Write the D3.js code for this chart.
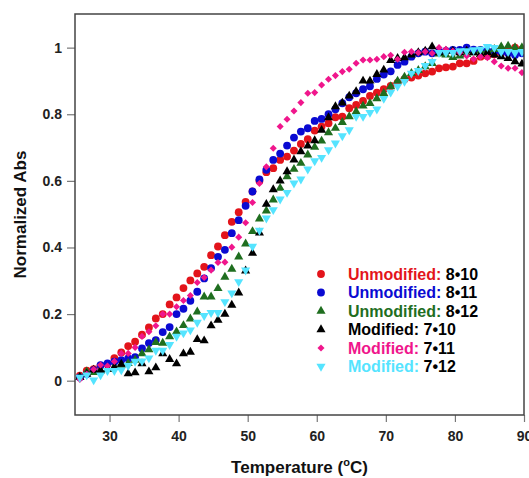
<!DOCTYPE html>
<html>
<head>
<meta charset="utf-8">
<script src="https://cdn.jsdelivr.net/npm/d3@7"></script>
<style>
  body { margin: 0; background: #fff; }
  svg { display: block; font-family: "Liberation Sans", Arial, sans-serif; }
  .tick text { font-size: 14px; font-weight: bold; fill: #222; }
  .tick line { stroke: #777; stroke-width: 1.2; }
</style>
</head>
<body>
<svg id="chart" width="529" height="478"></svg>
<script>
// temperature grid, deg C
const temps = [25.7,26.7,27.7,28.7,29.7,30.7,31.7,32.7,33.7,34.7,35.7,36.7,37.7,38.7,39.7,40.7,41.7,42.7,43.7,44.7,
  45.7,46.7,47.7,48.7,49.7,50.7,51.7,52.7,53.7,54.7,55.7,56.7,57.7,58.7,59.7,60.7,61.7,62.7,63.7,64.7,
  65.7,66.7,67.7,68.7,69.7,70.7,71.7,72.7,73.7,74.7,75.7,76.7,77.7,78.7,79.7,80.7,81.7,82.7,83.7,84.7,
  85.7,86.7,87.7,88.7,89.7];

const unmod810 = [0.015,0.03,0.035,0.045,0.05,0.068,0.085,0.104,0.117,0.138,0.16,0.187,0.2,0.229,0.25,0.278,0.301,0.322,0.342,0.377,
  0.403,0.437,0.477,0.506,0.537,0.568,0.6,0.626,0.638,0.663,0.673,0.691,0.711,0.725,0.751,0.763,0.773,0.791,0.793,0.818,
  0.828,0.84,0.855,0.865,0.875,0.885,0.895,0.905,0.91,0.916,0.923,0.928,0.938,0.941,0.943,0.953,0.953,0.96,0.973,0.975,
  0.98,0.985,0.99,1.0,0.995];
const unmod811 = [0.01,0.02,0.032,0.047,0.052,0.057,0.062,0.067,0.071,0.097,0.113,0.122,0.146,0.161,0.2,0.216,0.24,0.267,0.307,0.338,
  0.372,0.393,0.443,0.482,0.525,0.568,0.604,0.633,0.663,0.682,0.706,0.73,0.748,0.758,0.78,0.786,0.8,0.815,0.833,0.851,
  0.863,0.875,0.884,0.906,0.919,0.929,0.948,0.958,0.973,0.983,0.988,0.983,0.988,0.99,0.993,0.993,1.0,0.994,0.993,0.99,
  0.99,0.988,0.983,0.978,0.983];
const unmod812 = [0.01,0.027,0.025,0.03,0.035,0.042,0.047,0.052,0.062,0.081,0.093,0.115,0.113,0.132,0.147,0.166,0.186,0.207,0.252,0.252,
  0.277,0.311,0.335,0.372,0.411,0.448,0.486,0.51,0.543,0.578,0.613,0.635,0.653,0.678,0.701,0.72,0.745,0.758,0.776,0.793,
  0.808,0.825,0.833,0.847,0.863,0.883,0.9,0.912,0.923,0.932,0.943,0.953,0.981,0.978,0.971,0.975,0.98,0.985,0.99,0.99,
  0.995,1.003,1.005,1.0,1.0];
const mod710 = [0.01,0.02,0.032,0.03,0.035,0.04,0.05,0.021,0.024,0.051,0.027,0.039,0.081,0.064,0.051,0.081,0.086,0.124,0.12,0.165,
  0.182,0.2,0.227,0.264,0.33,0.383,0.444,0.53,0.574,0.6,0.628,0.663,0.688,0.705,0.721,0.752,0.79,0.823,0.834,0.855,
  0.868,0.9,0.9,0.92,0.933,0.962,0.968,0.97,0.978,0.985,0.99,1.003,0.985,0.99,0.99,0.985,0.99,0.985,0.98,0.985,
  0.978,0.973,0.968,0.958,0.951];
const mod711 = [0.004,0.02,0.034,0.047,0.044,0.058,0.082,0.082,0.1,0.133,0.147,0.165,0.2,0.2,0.222,0.241,0.256,0.295,0.31,0.332,
  0.355,0.356,0.401,0.431,0.474,0.535,0.592,0.642,0.698,0.763,0.785,0.81,0.835,0.863,0.865,0.888,0.905,0.916,0.928,0.935,
  0.953,0.963,0.963,0.965,0.973,0.977,0.965,0.986,0.988,0.985,0.988,0.983,1.0,0.995,0.99,0.985,0.975,0.966,0.973,0.97,
  0.958,0.945,0.938,0.938,0.925];
const mod712 = [0.01,0.017,0.002,0.017,0.03,0.03,0.032,0.045,0.058,0.059,0.068,0.091,0.091,0.108,0.133,0.143,0.152,0.175,0.195,0.204,
  0.204,0.237,0.263,0.297,0.332,0.403,0.451,0.488,0.513,0.545,0.565,0.593,0.605,0.635,0.66,0.67,0.693,0.713,0.735,0.753,
  0.793,0.793,0.805,0.815,0.847,0.866,0.884,0.898,0.923,0.931,0.946,0.958,0.985,0.985,0.985,0.99,0.99,0.993,0.995,1.003,
  1.0,0.988,0.988,0.985,0.988];

const seriesNames = ["Unmodified:", "Unmodified:", "Unmodified:", "Modified:", "Modified:", "Modified:"];
const seriesIds = ["8\u202210", "8\u202211", "8\u202212", "7\u202210", "7\u202211", "7\u202212"];
const seriesValues = [unmod810, unmod811, unmod812, mod710, mod711, mod712];
const seriesColors = ["#e3141b", "#0a0ad2", "#1f6e1f", "#000000", "#f0168c", "#55e4ff"];

const xTicks = [30, 40, 50, 60, 70, 80, 90];
const yTicks = [0, 0.2, 0.4, 0.6, 0.8, 1];

const svg = d3.select("#chart");
const margin = {top: 14, right: 5, bottom: 63, left: 75};
const width = 529, height = 478;

const x = d3.scaleLinear().domain([25, 90]).range([margin.left, width - margin.right]);
const y = d3.scaleLinear().domain([-0.103, 1.101]).range([height - margin.bottom, margin.top]);

// marker shapes per series
const shapes = [
  d3.symbol().type(d3.symbolCircle).size(48),
  d3.symbol().type(d3.symbolCircle).size(48),
  d3.symbol().type(d3.symbolTriangle).size(36),
  d3.symbol().type(d3.symbolTriangle).size(36),
  d3.symbol().type(d3.symbolDiamond2).size(32),
  d3.symbol().type(d3.symbolTriangle).size(36)
];
const flip = [false, false, false, false, false, true];

// axes
svg.append("g")
  .attr("transform", `translate(0,${height - margin.bottom})`)
  .call(d3.axisBottom(x).tickValues(xTicks).tickSize(7).tickPadding(9).tickFormat(d3.format("d")))
  .call(g => g.select(".domain").remove());

svg.append("g")
  .attr("transform", `translate(${margin.left},0)`)
  .call(d3.axisLeft(y).tickValues(yTicks).tickSize(8).tickPadding(5).tickFormat(d3.format("~g")))
  .call(g => g.select(".domain").remove());

// points
svg.append("clipPath").attr("id", "plotclip")
  .append("rect")
  .attr("x", margin.left).attr("y", margin.top)
  .attr("width", width - margin.left - margin.right)
  .attr("height", height - margin.top - margin.bottom);

const plot = svg.append("g").attr("clip-path", "url(#plotclip)");
seriesValues.forEach((vals, si) => {
  plot.append("g")
    .attr("fill", seriesColors[si])
    .selectAll("path")
    .data(vals)
    .join("path")
      .attr("d", shapes[si]())
      .attr("transform", (d, i) => `translate(${x(temps[i])},${y(d)})` + (flip[si] ? " rotate(180)" : ""));
});

// frame
svg.append("rect")
  .attr("x", margin.left).attr("y", margin.top)
  .attr("width", width - margin.left - margin.right)
  .attr("height", height - margin.top - margin.bottom)
  .attr("fill", "none")
  .attr("stroke", "#444")
  .attr("stroke-width", 1.5);

// legend
const legendX = 321, legendTextX = 348, legendY = 274, legendStep = 18.5;
const legend = svg.append("g").attr("class", "legend");
seriesValues.forEach((vals, si) => {
  const ly = legendY + si * legendStep;
  legend.append("path")
    .attr("d", shapes[si]())
    .attr("fill", seriesColors[si])
    .attr("transform", `translate(${legendX},${ly})` + (flip[si] ? " rotate(180)" : ""));
  const t = legend.append("text")
    .attr("x", legendTextX)
    .attr("y", ly + 5.8)
    .attr("font-size", 16)
    .attr("font-weight", "bold");
  t.append("tspan").attr("fill", seriesColors[si]).text(seriesNames[si]);
  t.append("tspan").attr("fill", "#000").text(" " + seriesIds[si]);
});

// axis titles
svg.append("text")
  .attr("transform", `translate(26,${(margin.top + height - margin.bottom) / 2}) rotate(-90)`)
  .attr("text-anchor", "middle")
  .attr("font-size", 17)
  .attr("font-weight", "bold")
  .attr("fill", "#111")
  .text("Normalized Abs");

const xt = svg.append("text")
  .attr("x", (margin.left + width - margin.right) / 2)
  .attr("y", 473)
  .attr("text-anchor", "middle")
  .attr("font-size", 17)
  .attr("font-weight", "bold")
  .attr("fill", "#111");
xt.append("tspan").text("Temperature (");
xt.append("tspan").attr("font-size", 11).attr("dy", -7).text("o");
xt.append("tspan").attr("dy", 7).text("C)");
</script>
</body>
</html>
